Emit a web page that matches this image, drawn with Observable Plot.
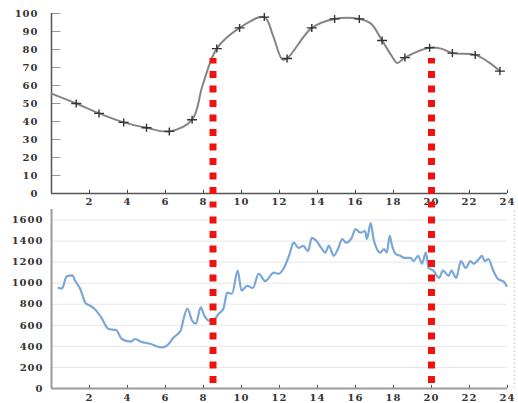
<!DOCTYPE html>
<html><head><meta charset="utf-8">
<script src="https://cdn.jsdelivr.net/npm/d3@7"></script>
<script src="https://cdn.jsdelivr.net/npm/@observablehq/plot@0.6"></script>
<style>
body{margin:0;background:#fff;}
#chart{width:518px;}
#chart svg{display:block;}
</style></head><body><div id="chart"></div>
<script>
// x tick labels (hours)
const hourTicks = [2,4,6,8,10,12,14,16,18,20,22,24];
const topYTicks = [0,10,20,30,40,50,60,70,80,90,100];
const bottomYTicks = [0,200,400,600,800,1000,1200,1400,1600];

// top series: marker points
const markerHour = [1.3,2.5,3.8,5.0,6.2,7.4,8.7,9.9,11.2,12.4,13.7,14.9,16.2,17.4,18.6,19.9,21.1,22.3,23.6];
const markerValue = [50,44.5,39.5,36.5,34.5,41,80.5,92,98,75,92,97,97,85,75.5,81,78,77,68];
// top series: extra curve points between markers
const curveHour = [0,7.95,11.65,12.15,16.8,17.9,18.2,20.5,23.0];
const curveValue = [55.5,60,88,74.5,94.5,76.5,72.5,80.5,73];

// bottom series
const lowHour = [0.37,0.55,0.8,1.1,1.25,1.5,1.8,2.05,2.3,2.6,3.0,3.4,3.7,4.15,4.4,4.7,5.2,5.8,6.2,6.4,6.8,6.95,7.15,7.4,7.6,7.85,8.05,8.3,8.55,8.8,9.05,9.25,9.5,9.8,10.0,10.3,10.6,10.9,11.25,11.7,11.95,12.2,12.5,12.75,13.0,13.25,13.5,13.7,13.95,14.2,14.4,14.6,14.85,15.1,15.3,15.5,15.8,16.0,16.25,16.5,16.6,16.8,16.95,17.1,17.3,17.5,17.65,17.8,17.9,18.1,18.35,18.6,18.9,19.05,19.3,19.5,19.7,19.85,20.1,20.4,20.6,20.9,21.05,21.3,21.55,21.8,22.05,22.2,22.5,22.65,22.8,23.0,23.25,23.5,23.8,23.95];
const lowValue = [955,950,1065,1075,1020,950,810,785,750,680,565,555,470,445,470,445,425,390,430,480,550,660,760,645,615,770,690,645,655,710,760,910,900,1120,930,975,955,1090,1020,1100,1090,1135,1260,1385,1335,1355,1305,1430,1400,1335,1290,1355,1260,1335,1420,1385,1430,1515,1480,1495,1420,1570,1420,1335,1290,1325,1290,1450,1375,1280,1260,1240,1240,1210,1260,1185,1290,1145,1120,1050,1120,1070,1120,1050,1210,1145,1210,1185,1230,1260,1210,1230,1120,1040,1015,975];

// event markers (hours)
const eventHours = [8.5, 20];

const markers = markerHour.map((h,i)=>({h, v: markerValue[i]}));
const curve = markers.concat(curveHour.map((h,i)=>({h, v: curveValue[i]}))).sort((a,b)=>a.h-b.h);
const low = lowHour.map((h,i)=>({h, v: lowValue[i]}));

const labelStyle = {fontFamily:"'DejaVu Serif', serif", fontWeight:"bold", fontSize:"10px", letterSpacing:"1px", color:"#333", background:"#fff", overflow:"visible"};
const plain = d => String(d);

const crossSymbol = {draw(ctx, size){ const r = Math.sqrt(size/Math.PI); ctx.moveTo(-r*1.25,0); ctx.lineTo(r*1.25,0); ctx.moveTo(0,-r); ctx.lineTo(0,r); }};

const topChart = Plot.plot({
  width: 518, height: 207,
  marginLeft: 51, marginRight: 11, marginTop: 13, marginBottom: 14,
  style: labelStyle,
  x: {domain:[0,24], label:null},
  y: {domain:[0,100], label:null},
  marks: [
    Plot.axisX(hourTicks, {tickSize:0, tickPadding:4, fill:"#333", label:null, tickFormat:plain}),
    Plot.axisY(topYTicks, {tickSize:0, tickPadding:13, fill:"#333", label:null, tickFormat:plain}),
    Plot.ruleY(topYTicks.filter(d=>d>0), {x1:0, x2:0.5, stroke:"#999", strokeWidth:1}),
    Plot.ruleX(hourTicks, {y1:0, y2:1.8, stroke:"#444", strokeWidth:1}),
    Plot.ruleY([0], {x1:0, x2:24, stroke:"#555", strokeWidth:1.5}),
    Plot.ruleX([0], {y1:0, y2:100, stroke:"#555", strokeWidth:1.5}),
    Plot.line(curve, {x:"h", y:"v", curve:"catmull-rom", stroke:"#858585", strokeWidth:2}),
    Plot.dot(markers, {x:"h", y:"v", symbol: crossSymbol, r:4, stroke:"#333", strokeWidth:1.4, fill:"none"}),
    Plot.ruleX(eventHours, {y1:-8, y2:75, stroke:"#f01212", strokeWidth:7, strokeDasharray:"7,7.5", strokeDashoffset:1})
  ]
});

const bottomChart = Plot.plot({
  width: 518, height: 196,
  marginLeft: 51, marginRight: 11, marginTop: 2, marginBottom: 15,
  style: labelStyle,
  x: {domain:[0,24], label:null},
  y: {domain:[0,1700], label:null},
  marks: [
    Plot.ruleY(bottomYTicks.filter(d=>d>0), {x1:0, x2:24, stroke:"#e6e6e6", strokeWidth:1}),
    Plot.ruleX([24.35], {y1:0, y2:1700, stroke:"#c8c8c8", strokeWidth:1, strokeDasharray:"1.5,2.5"}),
    Plot.axisX(hourTicks, {tickSize:0, tickPadding:5, fill:"#333", label:null, tickFormat:plain}),
    Plot.axisY(bottomYTicks, {tickSize:0, tickPadding:8, fill:"#333", label:null, tickFormat:plain}),
    Plot.ruleX(hourTicks, {y1:0, y2:30, stroke:"#555", strokeWidth:1}),
    Plot.ruleY([0], {x1:0, x2:24, stroke:"#9a9a9a", strokeWidth:2}),
    Plot.ruleX([0], {y1:0, y2:1700, stroke:"#9a9a9a", strokeWidth:2}),
    Plot.line(low, {x:"h", y:"v", curve:"monotone-x", stroke:"#7ba7d8", strokeWidth:2.2}),
    Plot.ruleX(eventHours, {y1:1700, y2:40, stroke:"#f01212", strokeWidth:7, strokeDasharray:"7,7.5", strokeDashoffset:7})
  ]
});

document.getElementById("chart").append(topChart, bottomChart);
</script>
</body></html>
